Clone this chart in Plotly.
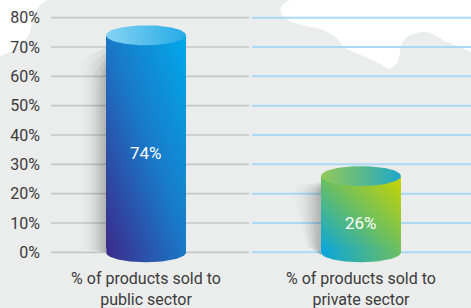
import numpy as np
import plotly.graph_objects as go

# ---------------- data ----------------
categories = ["% of products sold to<br>public sector", "% of products sold to<br>private sector"]
values = [74, 26]
value_labels = ["74%", "26%"]
y_ticks = [0, 10, 20, 30, 40, 50, 60, 70, 80]
y_tick_labels = ["0%", "10%", "20%", "30%", "40%", "50%", "60%", "70%", "80%"]

# ---------------- style ----------------
W, H = 471, 308
ML, MR, MT, MB = 51, 0, 3, 41
x_pos = [0, 1]
x_range = [-0.442, 1.512]
y_range = [-5, 85]
plot_w = W - ML - MR
plot_h = H - MT - MB
ppx = plot_w / (x_range[1] - x_range[0])   # px per x unit
ppy = plot_h / (y_range[1] - y_range[0])   # px per y unit
half_w = 40 / ppx
ry = 10 / ppy

body_stops = [
    [(0.0, "#3b2a8a"), (0.5, "#1a78c8"), (1.0, "#00aaec")],
    [(0.0, "#08a4de"), (0.5, "#6cbf60"), (1.0, "#cad500")],
]
top_stops = [
    [(0.0, "#86d3f4"), (1.0, "#26abe6")],
    [(0.0, "#92c95a"), (0.5, "#5cb98a"), (1.0, "#1ea6cc")],
]
text_color = "#3b3b3b"
FONT = "Roboto"


def hex2rgb(h):
    h = h.lstrip("#")
    return np.array([int(h[i:i + 2], 16) for i in (0, 2, 4)], dtype=float)


def color_at(stops, s):
    s = min(max(s, 0.0), 1.0)
    for (a, ca), (b, cb) in zip(stops[:-1], stops[1:]):
        if a <= s <= b:
            f = 0 if b == a else (s - a) / (b - a)
            c = hex2rgb(ca) * (1 - f) + hex2rgb(cb) * f
            return "rgb(%d,%d,%d)" % tuple(np.round(c))
    return stops[-1][1]


fig = go.Figure()

# soft shadows (several stacked faint layers)
for i, (x, v) in enumerate(zip(x_pos, values)):
    left = x - half_w
    for j, f in enumerate([1.0, 0.8, 0.6, 0.4]):
        if i == 0:
            sx = [left, left - 0.11 * f, left - 0.125 * f, left]
            sy = [0, 1, v - 9 - 14 * (1 - f), v - 4 - 10 * (1 - f)]
        else:
            sx = [left, left - 0.06 * f, left - 0.14 * f, left]
            sy = [-1, 2, v - 4 - 5 * (1 - f), v - 2 - 3 * (1 - f)]
        fig.add_trace(go.Scatter(
            x=sx, y=sy, mode="lines", line=dict(width=0), fill="toself",
            fillgradient=dict(type="horizontal", start=min(sx), stop=left,
                              colorscale=[[0, "rgba(0,0,0,0)"], [1, "rgba(0,0,0,0.07)"]]),
            hoverinfo="skip", showlegend=False))

# cylinder bodies (diagonal gradient built from horizontal strips)
n_strips = 40
theta_low = np.linspace(np.pi, 2 * np.pi, 60)
theta_full = np.linspace(0, 2 * np.pi, 121)
for i, (x, v) in enumerate(zip(x_pos, values)):
    stops = body_stops[i]
    dy = v / n_strips
    for k in range(n_strips):
        y0 = k * dy
        y1 = min(v, (k + 1) * dy + dy * 0.6)
        t = (k + 0.5) / n_strips
        us = np.linspace(0, 1, 6)
        cs = [[float(u), color_at(stops, 0.5 * u + 0.5 * t)] for u in us]
        if k == 0:
            px = [x - half_w] + list(x + half_w * np.cos(theta_low)) + [x + half_w]
            py = [y1] + list(ry * np.sin(theta_low)) + [y1]
        else:
            px = [x - half_w, x - half_w, x + half_w, x + half_w]
            py = [y1, y0, y0, y1]
        fig.add_trace(go.Scatter(
            x=px, y=py, mode="lines", line=dict(width=0), fill="toself",
            fillgradient=dict(type="horizontal", start=x - half_w, stop=x + half_w,
                              colorscale=cs),
            hoverinfo="skip", showlegend=False))
    # top ellipse
    ex = x + half_w * np.cos(theta_full)
    ey = v + ry * np.sin(theta_full)
    fig.add_trace(go.Scatter(
        x=ex, y=ey, mode="lines", line=dict(width=0), fill="toself",
        fillgradient=dict(type="horizontal", start=x - half_w, stop=x + half_w,
                          colorscale=[[a, c] for a, c in top_stops[i]]),
        hoverinfo="skip", showlegend=False))

# value labels
for x, v, lab in zip(x_pos, values, value_labels):
    fig.add_annotation(x=x, y=v / 2, text=lab, showarrow=False, yshift=-9,
                       font=dict(family=FONT, size=17, color="white"))


# background blobs (pixel -> paper conversion)
def P(px, py):
    return "%.4f,%.4f" % ((px - ML) / plot_w, (H - MB - py) / plot_h)


blob_tl = ("M " + P(0, 0) + " L " + P(47, 0) + " C " + P(37, 6) + " " + P(32, 15) + " " + P(31, 28)
           + " C " + P(29, 40) + " " + P(18, 50) + " " + P(0, 56) + " Z")
blob_tr = ("M " + P(290, 0) + " C " + P(278, 4) + " " + P(276, 16) + " " + P(294, 23)
           + " L " + P(310, 27) + " C " + P(325, 29) + " " + P(338, 36) + " " + P(343, 47)
           + " C " + P(355, 54) + " " + P(372, 58) + " " + P(387, 68)
           + " C " + P(393, 70) + " " + P(399, 64) + " " + P(400, 52)
           + " C " + P(400, 40) + " " + P(408, 33) + " " + P(423, 32)
           + " C " + P(435, 32) + " " + P(440, 40) + " " + P(450, 43)
           + " L " + P(471, 52) + " L " + P(471, 0) + " Z")

shapes = [
    dict(type="path", path=blob_tl, xref="paper", yref="paper", fillcolor="white",
         line=dict(width=0), layer="below"),
    dict(type="path", path=blob_tr, xref="paper", yref="paper", fillcolor="white",
         line=dict(width=0), layer="below"),
]
split_a = (249 - ML) / plot_w
split_b = (252 - ML) / plot_w
for yv in y_ticks:
    shapes.append(dict(type="line", xref="paper", yref="y", x0=0, x1=split_a, y0=yv, y1=yv,
                       line=dict(color="#c6c7c7", width=1.6), layer="below"))
    shapes.append(dict(type="line", xref="paper", yref="y", x0=split_b, x1=1, y0=yv, y1=yv,
                       line=dict(color="#a9d9f5", width=2), layer="below"))

fig.update_layout(
    width=W, height=H,
    margin=dict(l=ML, r=MR, t=MT, b=MB),
    paper_bgcolor="#ebecec",
    plot_bgcolor="rgba(0,0,0,0)",
    shapes=shapes,
    font=dict(family=FONT, size=16, color=text_color),
    xaxis=dict(range=x_range, tickmode="array", tickvals=x_pos, ticktext=categories,
               showgrid=False, zeroline=False, showline=False, ticks="",
               automargin=False, ticklabelstandoff=0,
               tickfont=dict(family=FONT, size=16, color=text_color), fixedrange=True),
    yaxis=dict(range=y_range, tickmode="array", tickvals=y_ticks, ticktext=y_tick_labels,
               showgrid=False, zeroline=False, showline=False, ticks="",
               automargin=False, ticklabelstandoff=10,
               tickfont=dict(family=FONT, size=16, color=text_color), fixedrange=True),
)

fig.write_html(
    "out.html",
    config={"displayModeBar": False, "responsive": False},
    post_script="document.body.style.margin='0';document.body.style.padding='0';"
                "document.body.style.overflow='hidden';",
)
